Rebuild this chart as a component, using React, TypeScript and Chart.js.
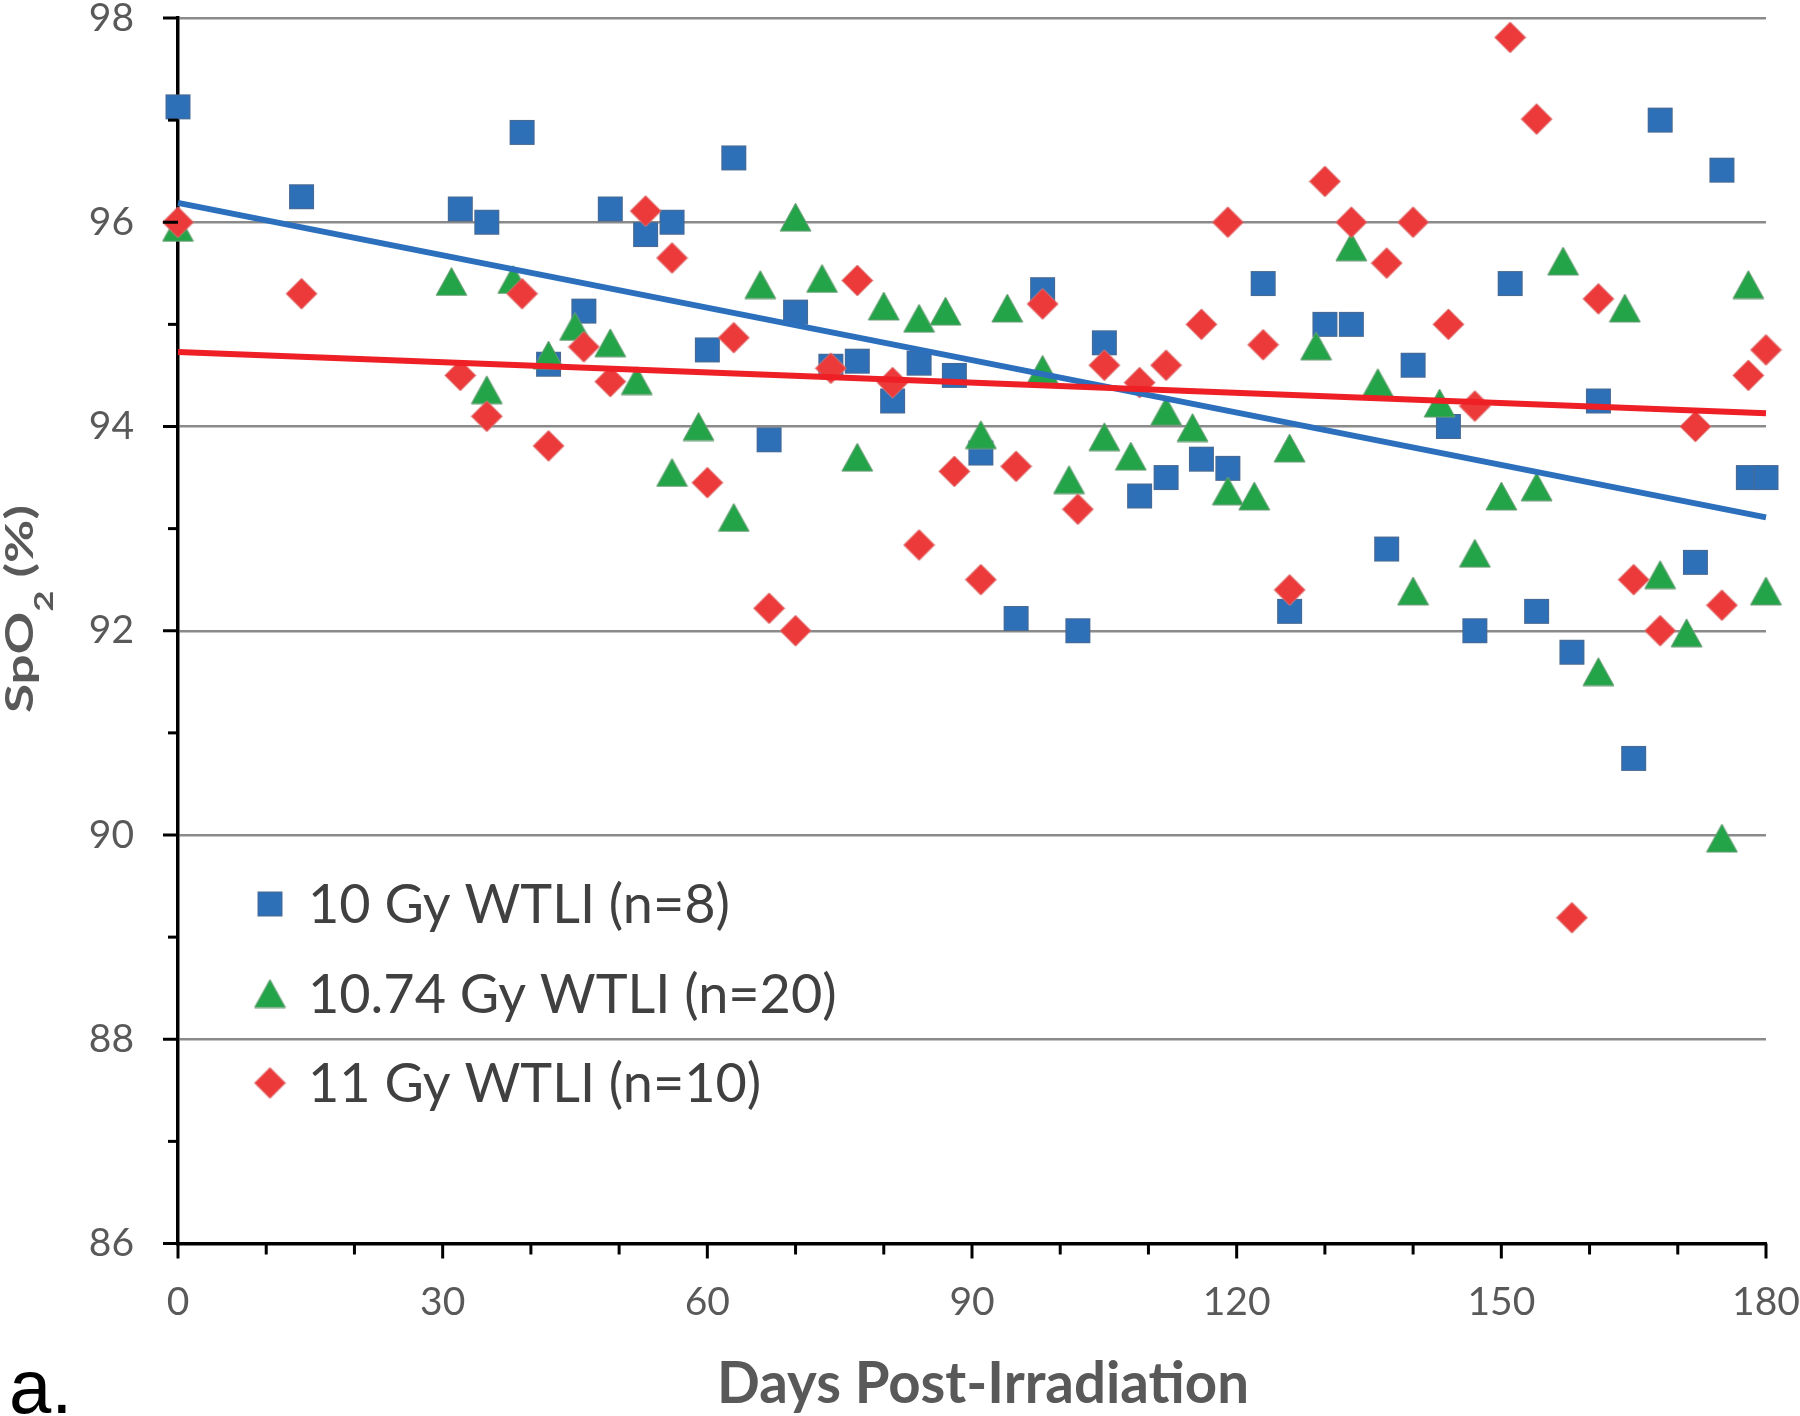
import React, { useEffect, useRef } from 'react';
import { Chart, registerables } from 'chart.js';

Chart.register(...registerables);

// ---------- data ----------
const seriesLabels = ['10 Gy WTLI (n=8)', '10.74 Gy WTLI (n=20)', '11 Gy WTLI (n=10)'];

const days10 = [0, 14, 32, 35, 39, 42, 46, 49, 53, 56, 60, 63, 67, 70, 74, 77, 81, 84, 88, 91, 95, 98, 102, 105, 109, 112, 116, 119, 123, 126, 130, 133, 137, 140, 144, 147, 151, 154, 158, 161, 165, 168, 172, 175, 178, 180];
const spo2_10 = [97.13, 96.25, 96.13, 96.0, 96.88, 94.61, 95.13, 96.13, 95.88, 96.0, 94.75, 96.63, 93.87, 95.12, 94.59, 94.64, 94.25, 94.62, 94.5, 93.74, 92.12, 95.34, 92.0, 94.82, 93.32, 93.5, 93.68, 93.59, 95.4, 92.19, 95.0, 95.0, 92.8, 94.6, 94.0, 92.0, 95.4, 92.19, 91.79, 94.25, 90.75, 97.0, 92.67, 96.51, 93.5, 93.5];

const days1074 = [0, 31, 35, 38, 42, 45, 49, 52, 56, 59, 63, 66, 70, 73, 77, 80, 84, 87, 91, 94, 98, 101, 105, 108, 112, 115, 119, 122, 126, 129, 133, 136, 140, 143, 147, 150, 154, 157, 161, 164, 168, 171, 175, 178, 180];
const spo2_1074 = [95.95, 95.42, 94.36, 95.44, 94.7, 94.98, 94.82, 94.45, 93.55, 94.0, 93.11, 95.39, 96.05, 95.45, 93.7, 95.18, 95.06, 95.13, 93.92, 95.16, 94.56, 93.48, 93.9, 93.71, 94.15, 93.99, 93.37, 93.32, 93.79, 94.79, 95.76, 94.43, 92.39, 94.23, 92.76, 93.32, 93.41, 95.62, 91.6, 95.16, 92.55, 91.98, 89.97, 95.39, 92.39];

const days11 = [0, 14, 32, 35, 39, 42, 46, 49, 53, 56, 60, 63, 67, 70, 74, 77, 81, 84, 88, 91, 95, 98, 102, 105, 109, 112, 116, 119, 123, 126, 130, 133, 137, 140, 144, 147, 151, 154, 158, 161, 165, 168, 172, 175, 178, 180];
const spo2_11 = [96.0, 95.3, 94.5, 94.1, 95.3, 93.81, 94.78, 94.44, 96.11, 95.65, 93.45, 94.87, 92.22, 92.0, 94.57, 95.43, 94.43, 92.84, 93.56, 92.5, 93.61, 95.2, 93.19, 94.6, 94.43, 94.6, 95.0, 96.0, 94.8, 92.4, 96.4, 96.0, 95.6, 96.0, 95.0, 94.2, 97.81, 97.01, 89.19, 95.25, 92.5, 92.0, 94.0, 92.25, 94.5, 94.75];

const trendDays = [0, 180];
const trend10 = [96.19, 93.11];
const trend11 = [94.73, 94.13];

const xMin = 0, xMax = 180, xStep = 30, xMinorStep = 10;
const yMin = 86, yMax = 98, yStep = 2, yMinorStep = 1;

const xTitle = 'Days Post-Irradiation';
const yTitleParts = ['SpO', '2', ' (%)'];
const panelLabel = 'a.';

// ---------- style ----------
const W = 1800, H = 1416;
const blueFill = '#2e70b8', blueEdge = '#4a6990';
const greenFill = '#23a449', greenEdge = '#6f9c78';
const redFill = '#ec3a3b', redEdge = '#d88080';
const blueLine = '#2b6fbd', redLine = '#ee1f25';
const tickColor = '#595959';
const titleColor = '#595959';
const legendColor = '#404040';

function makeMarker(kind: string): HTMLCanvasElement {
  const c = document.createElement('canvas');
  const g = c.getContext('2d') as CanvasRenderingContext2D;
  if (kind === 'square') {
    c.width = 27; c.height = 27;
    g.fillStyle = blueFill; g.fillRect(1, 1, 25, 25);
    g.strokeStyle = blueEdge; g.lineWidth = 1; g.strokeRect(1.5, 1.5, 24, 24);
  } else if (kind === 'triangle') {
    c.width = 33; c.height = 30;
    g.beginPath(); g.moveTo(16.5, 1); g.lineTo(32, 29); g.lineTo(1, 29); g.closePath();
    g.fillStyle = greenFill; g.fill();
    g.strokeStyle = greenEdge; g.lineWidth = 1; g.stroke();
  } else {
    c.width = 33; c.height = 33;
    g.beginPath(); g.moveTo(16.5, 1); g.lineTo(32, 16.5); g.lineTo(16.5, 32); g.lineTo(1, 16.5); g.closePath();
    g.fillStyle = redFill; g.fill();
    g.strokeStyle = redEdge; g.lineWidth = 1; g.stroke();
  }
  return c;
}

function fitSize(ctx: CanvasRenderingContext2D, text: string, weight: string, family: string, target: number) {
  ctx.font = `${weight} 100px ${family}`;
  const w = ctx.measureText(text).width;
  return (100 * target) / w;
}

export default function App() {
  const ref = useRef<HTMLCanvasElement>(null);

  useEffect(() => {
    const canvas = ref.current as HTMLCanvasElement;
    const markers = [makeMarker('square'), makeMarker('triangle'), makeMarker('diamond')];

    const decor = {
      id: 'decor',
      afterDraw(chart: any) {
        const { ctx, chartArea: a } = chart;
        const xs = chart.scales.x, ys = chart.scales.y;
        ctx.save();
        // tick marks
        ctx.strokeStyle = '#000';
        ctx.lineWidth = 3;
        for (let v = yMin; v <= yMax; v += yMinorStep) {
          const py = ys.getPixelForValue(v);
          const len = (v - yMin) % yStep === 0 ? 15 : 10;
          ctx.beginPath(); ctx.moveTo(a.left - len, py); ctx.lineTo(a.left, py); ctx.stroke();
        }
        for (let d = xMin; d <= xMax; d += xMinorStep) {
          const px = xs.getPixelForValue(d);
          const len = (d - xMin) % xStep === 0 ? 15 : 11;
          ctx.beginPath(); ctx.moveTo(px, a.bottom); ctx.lineTo(px, a.bottom + len); ctx.stroke();
        }

        // legend
        const legSize = fitSize(ctx, seriesLabels[0], 'normal', 'Lato', 422);
        ctx.font = `normal ${legSize}px Lato`;
        ctx.fillStyle = legendColor;
        ctx.textAlign = 'left';
        ctx.textBaseline = 'alphabetic';
        const legCenters = [904, 993.5, 1083];
        seriesLabels.forEach((lab, i) => {
          const m = markers[i];
          const cy = legCenters[i];
          ctx.drawImage(m, 270 - m.width / 2, cy - m.height / 2);
          ctx.fillText(lab, 308, cy + 19);
        });

        // x title
        const xtSize = fitSize(ctx, xTitle, 'bold', 'Lato', 532);
        ctx.font = `bold ${xtSize}px Lato`;
        ctx.fillStyle = titleColor;
        ctx.textAlign = 'center';
        ctx.fillText(xTitle, 983, 1403);

        // y title (rotated, with subscript)
        const ys1 = 39, ys2 = 27;
        ctx.font = `bold ${ys1}px Lato`;
        const w1 = ctx.measureText(yTitleParts[0]).width;
        const w3 = ctx.measureText(yTitleParts[2]).width;
        ctx.font = `bold ${ys2}px Lato`;
        const w2 = ctx.measureText(yTitleParts[1]).width;
        const total = w1 + w2 + w3;
        const k = 208 / total;
        ctx.save();
        ctx.translate(33, 609);
        ctx.rotate(-Math.PI / 2);
        ctx.scale(k, 1);
        ctx.textAlign = 'left';
        let cx = -total / 2;
        ctx.font = `bold ${ys1}px Lato`;
        ctx.fillText(yTitleParts[0], cx, 0);
        cx += w1;
        ctx.font = `bold ${ys2}px Lato`;
        ctx.fillText(yTitleParts[1], cx, 20);
        cx += w2;
        ctx.font = `bold ${ys1}px Lato`;
        ctx.fillText(yTitleParts[2], cx, 0);
        ctx.restore();

        // panel label
        ctx.font = 'normal 76px "Liberation Sans"';
        ctx.fillStyle = '#000';
        ctx.textAlign = 'left';
        ctx.fillText(panelLabel, 9, 1413);
        ctx.restore();
      },
    };

    const pts = (xs: number[], ys: number[]) => xs.map((x, i) => ({ x, y: ys[i] }));

    const chart = new Chart(canvas, {
      type: 'scatter',
      data: {
        datasets: [
          {
            label: 'trend 11',
            data: pts(trendDays, trend11),
            showLine: true,
            borderColor: redLine,
            borderWidth: 6,
            pointRadius: 0,
            order: 0,
            clip: false,
          } as any,
          {
            label: 'trend 10',
            data: pts(trendDays, trend10),
            showLine: true,
            borderColor: blueLine,
            borderWidth: 6,
            pointRadius: 0,
            order: 0.5,
            clip: false,
          } as any,
          {
            label: seriesLabels[2],
            data: pts(days11, spo2_11),
            pointStyle: markers[2],
            pointRadius: 10,
            order: 1,
            clip: false,
          } as any,
          {
            label: seriesLabels[1],
            data: pts(days1074, spo2_1074),
            pointStyle: markers[1],
            pointRadius: 10,
            order: 2,
            clip: false,
          } as any,
          {
            label: seriesLabels[0],
            data: pts(days10, spo2_10),
            pointStyle: markers[0],
            pointRadius: 10,
            order: 3,
            clip: false,
          } as any,
        ],
      },
      options: {
        responsive: false,
        devicePixelRatio: 1,
        animation: false,
        layout: { padding: { top: 18, right: 34, left: 0, bottom: 0 } },
        plugins: { legend: { display: false }, tooltip: { enabled: false } },
        scales: {
          x: {
            type: 'linear',
            min: xMin,
            max: xMax,
            afterFit: (s: any) => { s.height = 172.5; s.paddingLeft = 0; s.paddingRight = 0; },
            ticks: { stepSize: xStep, color: tickColor, font: { family: 'Lato', size: 39 }, padding: 36, maxRotation: 0, autoSkip: false },
            grid: { display: false, drawTicks: false },
            border: { display: true, color: '#000', width: 3.5 },
          },
          y: {
            type: 'linear',
            min: yMin,
            max: yMax,
            afterFit: (s: any) => { s.width = 178; s.paddingTop = 0; s.paddingBottom = 0; },
            ticks: { stepSize: yStep, color: tickColor, font: { family: 'Lato', size: 39 }, padding: 44 },
            grid: {
              drawTicks: false,
              color: (c: any) => (c.tick && c.tick.value === yMin ? 'rgba(0,0,0,0)' : '#8a8a8a'),
              lineWidth: 2.5,
            },
            border: { display: true, color: '#000', width: 3.5 },
          },
        },
      } as any,
      plugins: [decor],
    });

    return () => chart.destroy();
  }, []);

  return (
    <div style={{ position: 'fixed', left: 0, top: 0, width: W, height: H, background: '#fff' }}>
      <canvas ref={ref} width={W} height={H} style={{ width: W, height: H, display: 'block' }} />
    </div>
  );
}
